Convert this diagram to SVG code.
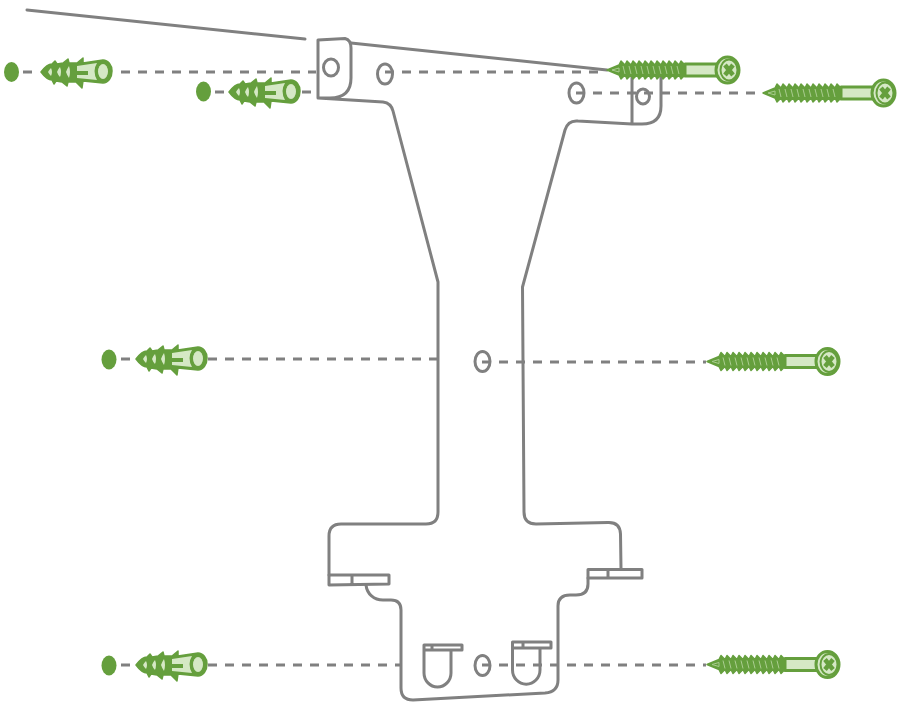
<svg xmlns="http://www.w3.org/2000/svg" width="904" height="702" viewBox="0 0 904 702">
<style>
.b{fill:none;stroke:#808080;stroke-width:3;stroke-linejoin:round;stroke-linecap:round}
.d{fill:none;stroke:#808080;stroke-width:3;stroke-dasharray:9 8}
.g{fill:#d5e8c5;stroke:#659f3d;stroke-width:3;stroke-linejoin:round}
.t{fill:#659f3d;stroke:#659f3d;stroke-width:1.500;stroke-linejoin:round}
.w{fill:#659f3d}
.x{fill:none;stroke:#659f3d;stroke-width:4.500}
.l{fill:#d5e8c5}
</style>
<defs>
<g id="screw">
<path class="g" d="M78-6H110V6H78Z"/>
<path class="t" d="M0 0L12-5L14-9L18-5L20-9L24-5L26-9L30-5L32-9L36-5L38-9L42-5L44-9L48-5L50-9L54-5L56-9L60-5L62-9L66-5L68-9L72-5L74-9L78-5V5L74 9L72 5L68 9L66 5L62 9L60 5L56 9L54 5L50 9L48 5L44 9L42 5L38 9L36 5L32 9L30 5L26 9L24 5L20 9L18 5L14 9L12 5Z"/>
<path d="M5 0L12-2V2ZM16-4L18 4M22-4L24 4M28-4L30 4M34-4L36 4M40-4L42 4M46-4L48 4M52-4L54 4M58-4L60 4M64-4L66 4M70-4L72 4" fill="none" stroke="#a9cc8f" stroke-width="1"/>
<ellipse class="g" cx="120.500" cy="0" rx="11.500" ry="13"/>
<ellipse cx="122" cy="0" rx="8.500" ry="10.500" fill="#d5e8c5" stroke="#659f3d" stroke-width="2"/>
<path class="x" d="M118-5L126 5M126-5L118 5"/>
</g>
<g id="anchor">
<path class="t" d="M0 0C3-4 7-8 11-8L14-11L16-8L22-9L27-13L28-9L36-9L42-14L42-9L62-12C67-12 71-7 71-1C71 6 67 11 62 11L42 9L41 16L35 10L27 10L26 14L21 10L15 9L13 12L11 8C7 8 3 4 0 0Z"/>
<path class="l" d="M10-4Q12 0 10 4Q8 2 7 0Q8-2 10-4ZM19-5Q21 0 19 5Q17 3 16 0Q17-3 19-5ZM28-6Q30 0 28 6Q26 3 25 0Q26-3 28-6Z"/>
<path class="l" d="M36-6L56-9Q51-1 56 8L36 6V3H47V-1H36Z"/>
<ellipse cx="62" cy="-0.500" rx="5" ry="7.500" class="l"/>
</g>
</defs>
<g id="connectors">
<path class="d" d="M23 72H32M121 72H316"/>
<path class="d" d="M215 92H228M302 92H318"/>
<path class="d" d="M121 359H135M208 359H438"/>
<path class="d" d="M121 665H135M208 665H400"/>
<path class="d" d="M385 72H606"/>
<path class="d" d="M576 93H762"/>
<path class="d" d="M482 362H706"/>
<path class="d" d="M482 665H706"/>
</g>
<g id="bracket">
<path class="b" d="M27 10L305 39"/>
<path class="b" d="M351 43L607 70"/>
<path class="b" d="M318 40L345 38.500Q351 40 351 48V78Q351 98 330 98L318 98ZM318 98L383 102Q391 103 393 111L438 282V512Q438 524 426 524H341Q329 524 329 536V575M366 585C367 594 374 600 383 600H391Q401 600 401 610V688Q401 700 413 700L545 693Q558 692 558 680V606Q558 595 570 595H576Q588 595 588 584V578M621 569L620.500 534Q620 522 608 522.500L536 524Q524 524 524 512L522.500 287L565 130Q568 120 578 121L632 124H642Q661 124 661 106V77M632 77V124"/>
<path class="b" d="M329 575H389V584L329 585ZM352 575V584"/>
<path class="b" d="M588 569.500H642V578H588ZM608 569.500V578"/>
<path class="b" d="M424 645H462V650H424ZM432 645V650M424 650V673A13.500 14 0 0 0 451 673V650"/>
<path class="b" d="M512.500 642H551V648H512.500ZM523 642V648M512.500 648V670A13.500 14 0 0 0 540 670V648"/>
</g>
<g id="holes">
<ellipse class="b" cx="331" cy="67.500" rx="7.500" ry="8.500"/>
<ellipse class="b" cx="385" cy="74" rx="7.500" ry="10"/>
<ellipse class="b" cx="576.500" cy="93" rx="7.500" ry="10"/>
<ellipse class="b" cx="643" cy="96.500" rx="6.500" ry="7.500"/>
<ellipse class="b" cx="482.500" cy="361.500" rx="7.500" ry="10"/>
<ellipse class="b" cx="482.500" cy="665.500" rx="7.500" ry="10"/>
</g>
<g id="wall-dots">
<ellipse class="w" cx="11.500" cy="72" rx="7.500" ry="10"/>
<ellipse class="w" cx="203.500" cy="91.500" rx="7.500" ry="10"/>
<ellipse class="w" cx="109" cy="359.500" rx="7.500" ry="10"/>
<ellipse class="w" cx="109" cy="665.500" rx="7.500" ry="10"/>
</g>
<g id="anchor-1"><use href="#anchor" x="41" y="72"/></g>
<g id="anchor-2"><use href="#anchor" x="229" y="92"/></g>
<g id="anchor-3"><use href="#anchor" x="136" y="359"/></g>
<g id="anchor-4"><use href="#anchor" x="136" y="665"/></g>
<g id="screw-1"><use href="#screw" x="607" y="70"/></g>
<g id="screw-2"><use href="#screw" x="763" y="93"/></g>
<g id="screw-3"><use href="#screw" x="707" y="361.500"/></g>
<g id="screw-4"><use href="#screw" x="707" y="664.500"/></g>
</svg>
